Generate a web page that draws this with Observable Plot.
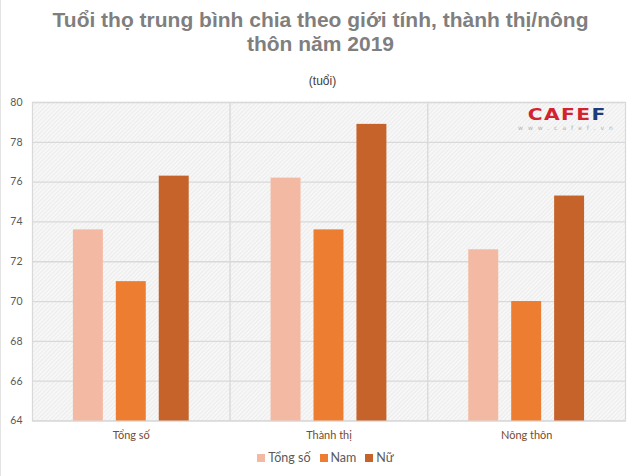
<!DOCTYPE html>
<html>
<head>
<meta charset="utf-8">
<script src="https://cdn.jsdelivr.net/npm/d3@7"></script>
<script src="https://cdn.jsdelivr.net/npm/@observablehq/plot@0.6"></script>
<style>
  html, body { margin: 0; padding: 0; background: #fff; }
  #wrap { position: relative; width: 640px; height: 476px; overflow: hidden; border-left: 1px solid #e3e3e3; box-sizing: border-box; }
  #title { text-align: center; font-family: "Liberation Sans Narrow", "Liberation Sans", Arial, sans-serif; font-weight: bold; font-size: 21px; line-height: 24px; color: #7f7f7f; padding-top: 8px; }
  #subtitle { text-align: center; font-family: "Liberation Sans", Arial, sans-serif; font-size: 12px; line-height: 16px; color: #404040; margin-top: 17px; margin-left: 4px; }
  #legend { display: flex; justify-content: center; gap: 9px; font-family: Lato, "Liberation Sans", sans-serif; font-size: 12.5px; color: #595959; margin-top: 6px; margin-left: 10px; }
  #legend span.sw { display: inline-block; width: 8px; height: 8px; margin-right: 3px; vertical-align: 0px; }
  #logo { position: absolute; left: 517px; top: 106px; width: 98px; text-align: center; }
  #logo .main { font-family: "DejaVu Sans", sans-serif; font-weight: bold; font-size: 15px; line-height: 15px; letter-spacing: 1px; display: inline-block; transform: scaleX(1.35); transform-origin: center; }
  #logo .sub { font-family: "DejaVu Sans", sans-serif; font-size: 6px; line-height: 7px; letter-spacing: 5px; color: #b0b0b0; }
</style>
</head>
<body>
<div id="wrap">
  <div id="title">Tuổi thọ trung bình chia theo giới tính, thành thị/nông<br>thôn năm 2019</div>
  <div id="subtitle">(tuổi)</div>
  <div id="chart"></div>
  <div id="legend"></div>
  <div id="logo"><div class="main"><span style="color:#d2232f">CAFE</span><span style="color:#1d3c7c">F</span></div><div class="sub">www.cafef.vn</div></div>
</div>
<script>
const categories = ["Tổng số", "Thành thị", "Nông thôn"];
const series = ["Tổng số", "Nam", "Nữ"];
const colors = ["#f4b9a2", "#ed7d31", "#c5632a"];
const tongSo = [73.6, 76.2, 72.6];
const nam = [71.0, 73.6, 70.0];
const nu = [76.3, 78.9, 75.3];
const yTicks = [64, 66, 68, 70, 72, 74, 76, 78, 80];

const valuesBySeries = [tongSo, nam, nu];
const data = [];
categories.forEach((c, i) => {
  series.forEach((s, j) => data.push({cat: c, series: s, value: valuesBySeries[j][i]}));
});

const chart = Plot.plot({
  width: 640,
  height: 356,
  marginLeft: 30,
  marginRight: 14,
  marginTop: 13,
  marginBottom: 24,
  style: {fontFamily: "Lato, 'Liberation Sans', sans-serif", fontSize: "10.5px", background: "transparent"},
  fx: {domain: categories, padding: 0, label: null, axis: null},
  x: {domain: series, paddingInner: 0.31, paddingOuter: 0.94, axis: null, label: null},
  y: {domain: [64, 80], ticks: yTicks, label: null},
  color: {domain: series, range: colors},
  marks: [
    Plot.frame({fill: "url(#hatch)", stroke: "#d9d9d9", strokeWidth: 1.2}),
    Plot.gridY(yTicks, {stroke: "#d9d9d9", strokeOpacity: 1, strokeWidth: 1.3}),
    Plot.barY(data, {fx: "cat", x: "series", y1: 64, y2: "value", fill: "series"}),
    Plot.axisY({ticks: yTicks, tickSize: 0, tickPadding: 10, fill: "#595959", label: null}),
    Plot.axisFx({anchor: "bottom", tickSize: 0, tickPadding: 10, fill: "#7a4a30", label: null, fontSize: "11px"})
  ]
});

// hatch pattern defs
const ns = "http://www.w3.org/2000/svg";
const defs = document.createElementNS(ns, "defs");
defs.innerHTML = `<pattern id="hatch" patternUnits="userSpaceOnUse" width="3" height="3" patternTransform="rotate(45)">
  <rect width="3" height="3" fill="#f7f7f7"></rect>
  <line x1="0" y1="0" x2="0" y2="3" stroke="#e6e6e6" stroke-width="1.2"></line>
</pattern>`;
chart.insertBefore(defs, chart.firstChild);
document.getElementById("chart").appendChild(chart);

const legend = document.getElementById("legend");
series.forEach((s, i) => {
  const item = document.createElement("div");
  item.innerHTML = `<span class="sw" style="background:${colors[i]}"></span>${s}`;
  legend.appendChild(item);
});
</script>
</body>
</html>
